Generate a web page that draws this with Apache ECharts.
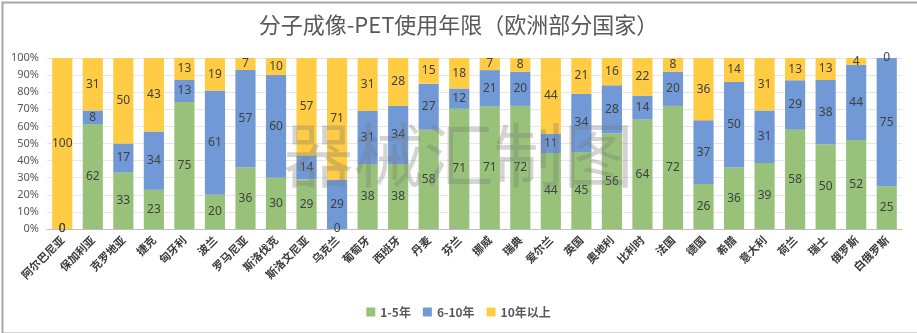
<!DOCTYPE html>
<html>
<head>
<meta charset="utf-8">
<script src="https://cdn.jsdelivr.net/npm/echarts@6/dist/echarts.min.js"></script>
<style>
  html, body { margin: 0; padding: 0; background: #fff; }
  #chart { width: 917px; height: 333px; }
</style>
</head>
<body>
<div id="chart"></div>
<script>
// Countries (x axis)
const countries = ['阿尔巴尼亚', '保加利亚', '克罗地亚', '捷克', '匈牙利', '波兰', '罗马尼亚', '斯洛伐克', '斯洛文尼亚', '乌克兰',
  '葡萄牙', '西班牙', '丹麦', '芬兰', '挪威', '瑞典', '爱尔兰', '英国', '奥地利', '比利时',
  '法国', '德国', '希腊', '意大利', '荷兰', '瑞士', '俄罗斯', '白俄罗斯'];

// Share of PET scanners by years in use (%)
const years1to5 = [0, 62, 33, 23, 75, 20, 36, 30, 29, 0, 38, 38, 58, 71, 71, 72, 44, 45, 56, 64, 72, 26, 36, 39, 58, 50, 52, 25];
const years6to10 = [0, 8, 17, 34, 13, 61, 57, 60, 14, 29, 31, 34, 27, 12, 21, 20, 11, 34, 28, 14, 20, 37, 50, 31, 29, 38, 44, 75];
const over10 = [100, 31, 50, 43, 13, 19, 7, 10, 57, 71, 31, 28, 15, 18, 7, 8, 44, 21, 16, 22, 8, 36, 14, 31, 13, 13, 4, 0];

const seriesNames = ['1-5年', '6-10年', '10年以上'];
const yTicks = ['0%', '10%', '20%', '30%', '40%', '50%', '60%', '70%', '80%', '90%', '100%'];

const raw = [years1to5, years6to10, over10];
const totals = countries.map((_, i) => raw.reduce((s, arr) => s + arr[i], 0));
const colors = ['#98c27a', '#7099d6', '#ffcc44'];

const chart = echarts.init(document.getElementById('chart'));

const series = raw.map((arr, k) => ({
  name: seriesNames[k],
  type: 'bar',
  stack: 'total',
  barCategoryGap: '34%',
  itemStyle: { color: colors[k] },
  label: {
    show: true,
    position: 'inside',
    color: '#404040',
    fontSize: 12,
    fontFamily: 'Noto Sans',
    formatter: p => String(arr[p.dataIndex])
  },
  // 100% stack: each segment drawn as its share of the country's total
  data: arr.map((v, i) => v / totals[i] * 100)
}));

chart.setOption({
  animation: false,
  backgroundColor: '#fff',
  title: {
    text: '分子成像-PET使用年限（欧洲部分国家）',
    left: 'center',
    top: 9,
    textStyle: { fontFamily: 'Noto Sans CJK SC', fontSize: 22, fontWeight: 'normal', color: '#595959' }
  },
  legend: {
    bottom: 10,
    left: 'center',
    itemWidth: 9,
    itemHeight: 9,
    itemGap: 12,
    icon: 'rect',
    textStyle: { fontFamily: 'Noto Sans CJK SC', fontSize: 12, color: '#595959', fontWeight: 'bold' },
    data: seriesNames
  },
  grid: { left: 47, right: 15, top: 58, bottom: 104 },
  xAxis: {
    type: 'category',
    data: countries,
    axisTick: { show: false },
    axisLine: { lineStyle: { color: '#bfbfbf' } },
    axisLabel: {
      interval: 0,
      rotate: 45,
      margin: 9,
      fontFamily: 'Noto Sans CJK SC',
      fontWeight: 'bold',
      fontSize: 11,
      color: '#3a3a3a'
    }
  },
  yAxis: {
    type: 'value',
    min: 0,
    max: 100,
    interval: 10,
    axisLine: { show: false },
    axisTick: { show: false },
    splitLine: { lineStyle: { color: '#e6e6e6' } },
    axisLabel: {
      formatter: v => yTicks[Math.round(v / 10)],
      fontFamily: 'Noto Sans',
      fontSize: 11,
      color: '#595959',
      margin: 8
    }
  },
  graphic: [
    {
      type: 'text',
      left: 'center',
      top: 120,
      z: 10,
      silent: true,
      style: {
        text: '器械汇制图',
        fontFamily: 'Noto Sans CJK SC',
        fontSize: 70,
        fill: 'rgba(120,120,120,0.32)'
      }
    },
    {
      type: 'rect',
      left: 0,
      top: 0,
      silent: true,
      shape: { width: 916, height: 331 },
      style: { fill: 'none', stroke: '#a6a6a6', lineWidth: 2 }
    }
  ],
  series: series
});
</script>
</body>
</html>
